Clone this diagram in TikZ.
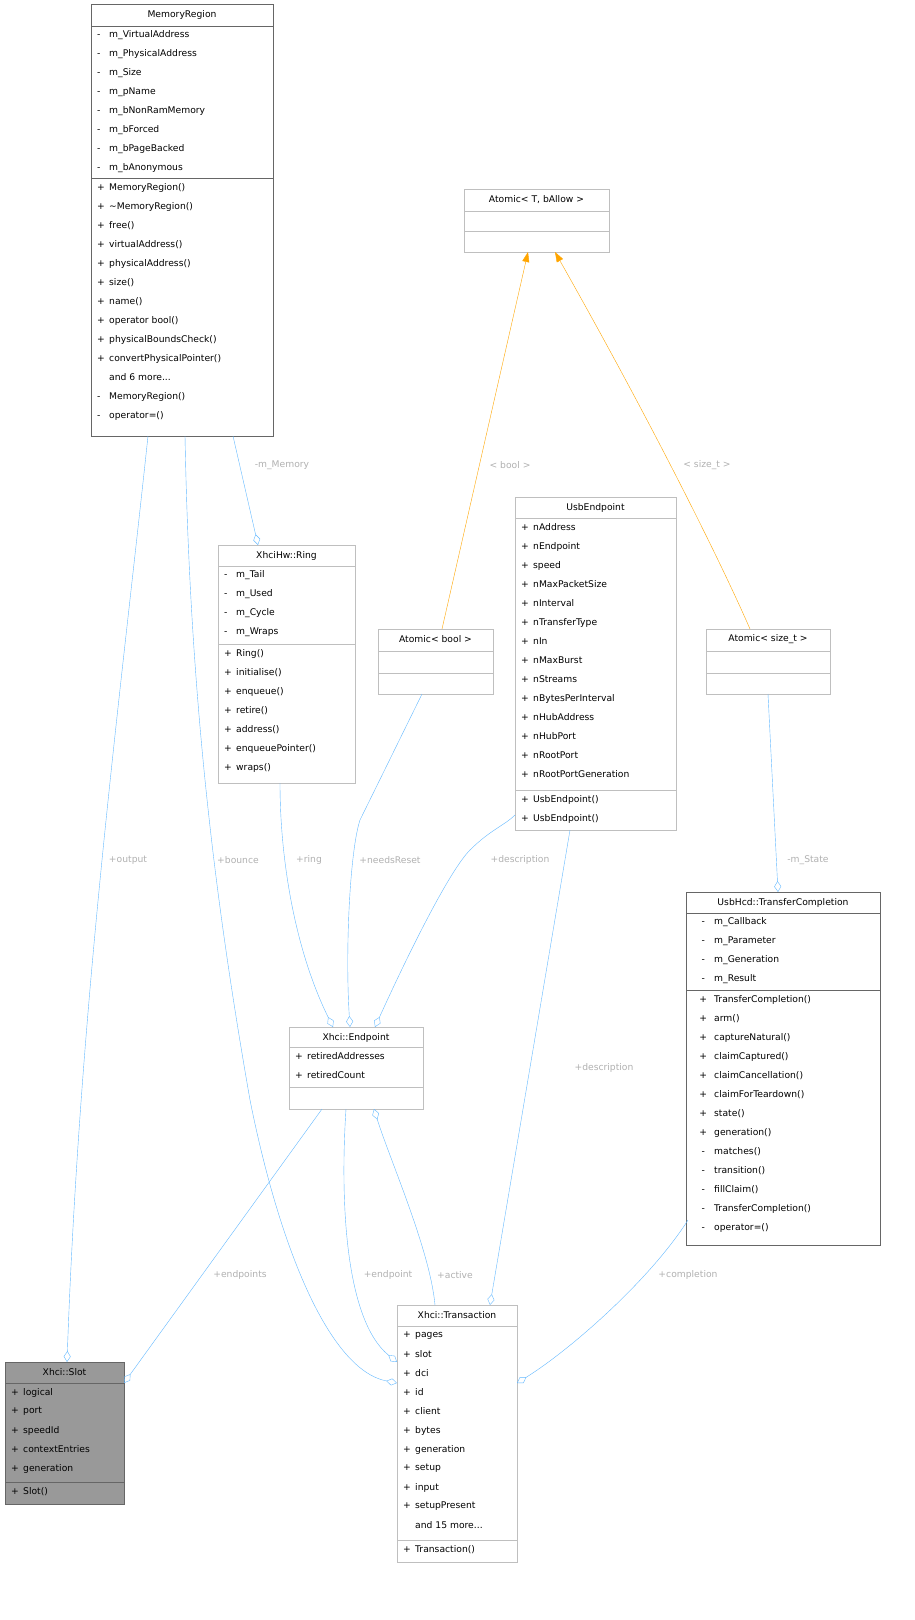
\documentclass[tikz,border=0pt]{standalone}
\usepackage{fontspec}
\setmainfont{DejaVu Sans}
\usetikzlibrary{arrows.meta,calc}
\definecolor{edge}{HTML}{63B8FF}
\definecolor{inh}{HTML}{FFA500}
\definecolor{lbl}{HTML}{B0B0B0}
\definecolor{dk}{HTML}{666666}
\definecolor{lt}{HTML}{BFBFBF}
\definecolor{slotfill}{HTML}{999999}
\newcommand\pf[2]{\makebox[12pt][l]{#1}#2}
\newcommand\pq[2]{\makebox[22pt][c]{#1}#2}
\newcommand\clsbox[7]{% name,x,y,w,h,color,title
  \node[draw=#6, minimum width=#4pt, minimum height=#5pt, anchor=north west, inner sep=0, outer sep=0] (#1) at (#2,#3) {};
  \node[font=\fontsize{9.2}{10}\selectfont] (#1-t) at ($(#1.north)+(0,10.5)$) {#7};}
\newcommand\sepline[4]{\draw[#4] (#1,#2) -- ++(#3,0);}
\newcommand\lines[3]{% x, ytop, list
  \foreach \t [count=\i] in {#3} \node[anchor=west, inner sep=0, font=\fontsize{9.2}{10}\selectfont] at (#1+6, #2+\i*19-9.5) {\t};}
\tikzset{agg/.style={draw=edge, {Diamond[open,length=11pt,width=7pt]}-},
  gen/.style={draw=inh, -{Triangle[length=10pt,width=7pt]}},
  el/.style={text=lbl, font=\fontsize{9.2}{10}\selectfont, inner sep=1pt}}
\begin{document}
\begin{tikzpicture}[x=1pt,y=-1pt]
\useasboundingbox (0,0) rectangle (915,1620);
% MemoryRegion
\clsbox{mr}{91}{4}{182}{432}{dk}{MemoryRegion}
\sepline{91}{26}{182}{dk}\sepline{91}{178}{182}{dk}
\lines{91}{26}{\pf{-}{m\_VirtualAddress},\pf{-}{m\_PhysicalAddress},\pf{-}{m\_Size},\pf{-}{m\_pName},\pf{-}{m\_bNonRamMemory},\pf{-}{m\_bForced},\pf{-}{m\_bPageBacked},\pf{-}{m\_bAnonymous}}
\lines{91}{178}{\pf{+}{MemoryRegion()},\pf{+}{\textasciitilde MemoryRegion()},\pf{+}{free()},\pf{+}{virtualAddress()},\pf{+}{physicalAddress()},\pf{+}{size()},\pf{+}{name()},\pf{+}{operator bool()},\pf{+}{physicalBoundsCheck()},\pf{+}{convertPhysicalPointer()},\pf{}{and 6 more...},\pf{-}{MemoryRegion()},\pf{-}{operator=()}}
% Atomic<T>
\clsbox{at}{464}{189}{145}{63}{lt}{Atomic< T, bAllow >}
\sepline{464}{211}{145}{lt}\sepline{464}{231}{145}{lt}
% Ring
\clsbox{ring}{218}{545}{137}{238}{lt}{XhciHw::Ring}
\sepline{218}{566}{137}{lt}\sepline{218}{644}{137}{lt}
\lines{218}{566}{\pf{-}{m\_Tail},\pf{-}{m\_Used},\pf{-}{m\_Cycle},\pf{-}{m\_Wraps}}
\lines{218}{644}{\pf{+}{Ring()},\pf{+}{initialise()},\pf{+}{enqueue()},\pf{+}{retire()},\pf{+}{address()},\pf{+}{enqueuePointer()},\pf{+}{wraps()}}
% Atomic<bool>
\clsbox{ab}{378}{629}{115}{65}{lt}{Atomic< bool >}
\sepline{378}{651}{115}{lt}\sepline{378}{673}{115}{lt}
% UsbEndpoint
\clsbox{ue}{515}{497}{161}{333}{lt}{UsbEndpoint}
\sepline{515}{518}{161}{lt}\sepline{515}{790}{161}{lt}
\lines{515}{518}{\pf{+}{nAddress},\pf{+}{nEndpoint},\pf{+}{speed},\pf{+}{nMaxPacketSize},\pf{+}{nInterval},\pf{+}{nTransferType},\pf{+}{nIn},\pf{+}{nMaxBurst},\pf{+}{nStreams},\pf{+}{nBytesPerInterval},\pf{+}{nHubAddress},\pf{+}{nHubPort},\pf{+}{nRootPort},\pf{+}{nRootPortGeneration}}
\lines{515}{790}{\pf{+}{UsbEndpoint()},\pf{+}{UsbEndpoint()}}
% Atomic<size_t>
\clsbox{as}{706}{629}{124}{65}{lt}{Atomic< size\_t >}
\sepline{706}{651}{124}{lt}\sepline{706}{673}{124}{lt}
% TransferCompletion
\clsbox{tc}{686}{892}{194}{353}{dk}{UsbHcd::TransferCompletion}
\sepline{686}{913}{194}{dk}\sepline{686}{990}{194}{dk}
\lines{686}{913}{\pq{-}{m\_Callback},\pq{-}{m\_Parameter},\pq{-}{m\_Generation},\pq{-}{m\_Result}}
\lines{686}{990}{\pq{+}{TransferCompletion()},\pq{+}{arm()},\pq{+}{captureNatural()},\pq{+}{claimCaptured()},\pq{+}{claimCancellation()},\pq{+}{claimForTeardown()},\pq{+}{state()},\pq{+}{generation()},\pq{-}{matches()},\pq{-}{transition()},\pq{-}{fillClaim()},\pq{-}{TransferCompletion()},\pq{-}{operator=()}}
% Endpoint
\clsbox{ep}{289}{1027}{134}{82}{lt}{Xhci::Endpoint}
\sepline{289}{1047}{134}{lt}\sepline{289}{1087}{134}{lt}
\lines{289}{1047}{\pf{+}{retiredAddresses},\pf{+}{retiredCount}}
% Slot
\fill[slotfill] (5,1362) rectangle (124,1504);
\clsbox{slot}{5}{1362}{119}{142}{dk}{Xhci::Slot}
\sepline{5}{1383}{119}{dk}\sepline{5}{1482}{119}{dk}
\lines{5}{1383}{\pf{+}{logical},\pf{+}{port},\pf{+}{speedId},\pf{+}{contextEntries},\pf{+}{generation}}
\lines{5}{1482}{\pf{+}{Slot()}}
% Transaction
\clsbox{tr}{397}{1305}{120}{257}{lt}{Xhci::Transaction}
\sepline{397}{1326}{120}{lt}\sepline{397}{1540}{120}{lt}
\lines{397}{1326}{\pf{+}{pages},\pf{+}{slot},\pf{+}{dci},\pf{+}{id},\pf{+}{client},\pf{+}{bytes},\pf{+}{generation},\pf{+}{setup},\pf{+}{input},\pf{+}{setupPresent},\pf{}{and 15 more...}}
\lines{397}{1540}{\pf{+}{Transaction()}}
% edges
\draw[agg] ($(slot.north west)+(62,0)$) .. controls (80,1000) and (120,700) .. ($(mr.south west)+(57,0)$);
\draw[agg] ($(tr.north west)+(0,78)$) .. controls (330,1370) and (280,1250) .. (250,1100) .. controls (215,900) and (190,700) .. ($(mr.south west)+(94,0)$);
\draw[agg] ($(ring.north west)+(40,0)$) -- ($(mr.south west)+(142,0)$);
\draw[agg] ($(ep.north west)+(44,0)$) .. controls (295,950) and (280,860) .. ($(ring.south west)+(62,0)$);
\draw[agg] ($(ep.north west)+(61,0)$) .. controls (345,950) and (350,850) .. (360,820) -- ($(ab.south west)+(44,0)$);
\draw[agg] ($(ep.north west)+(86,0)$) .. controls (410,950) and (450,870) .. (470,850) .. controls (490,830) and (505,825) .. ($(ue.south west)+(0,-15)$);
\draw[agg] ($(tr.north west)+(93,0)$) -- ($(ue.south west)+(55,0)$);
\draw[agg] ($(tc.north west)+(92,0)$) -- ($(as.south west)+(62,0)$);
\draw[agg] ($(tr.north east)+(0,78)$) .. controls (570,1350) and (650,1280) .. ($(tc.south west)+(2,-25)$);
\draw[agg] ($(slot.north east)+(0,21)$) -- ($(ep.south west)+(33,0)$);
\draw[agg] ($(tr.north west)+(0,57)$) .. controls (345,1320) and (340,1200) .. ($(ep.south west)+(57,0)$);
\draw[agg] ($(ep.south west)+(85,0)$) .. controls (390,1160) and (430,1250) .. ($(tr.north west)+(38,0)$);
\draw[gen] ($(ab.north west)+(64,0)$) -- ($(at.south west)+(64,0)$);
\draw[gen] ($(as.north west)+(44,0)$) .. controls (720,560) and (650,420) .. ($(at.south west)+(91,0)$);
% labels
\node[el] (l1) at (128,860) {+output};
\node[el] (l2) at (238,860) {+bounce};
\node[el] (l3) at (282,465) {-m\_Memory};
\node[el] (l4) at (309,860) {+ring};
\node[el] (l5) at (390,860) {+needsReset};
\node[el] (l6) at (520,860) {+description};
\node[el] (l7) at (604,1068) {+description};
\node[el] (l8) at (808,860) {-m\_State};
\node[el] (l9) at (688,1275) {+completion};
\node[el] (l10) at (240,1275) {+endpoints};
\node[el] (l11) at (388,1275) {+endpoint};
\node[el] (l12) at (455,1275) {+active};
\node[el] (l13) at (510,465) {< bool >};
\node[el] (l14) at (707,465) {< size\_t >};
\end{tikzpicture}
\end{document}
